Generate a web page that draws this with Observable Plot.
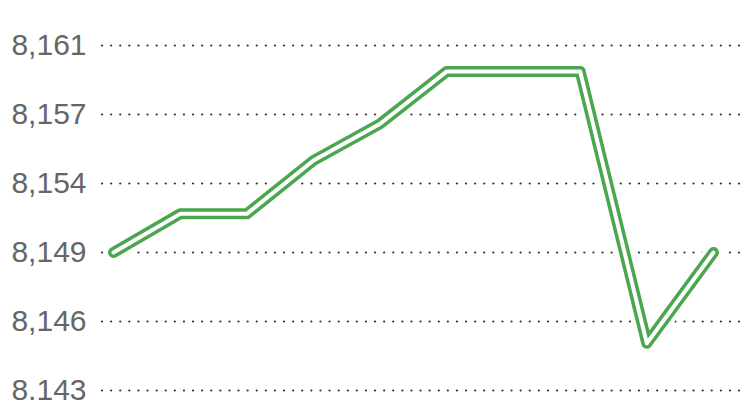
<!DOCTYPE html>
<html><head><meta charset="utf-8">
<script src="https://cdn.jsdelivr.net/npm/d3@7"></script>
<script src="https://cdn.jsdelivr.net/npm/@observablehq/plot@0.6"></script>
<style>body{margin:0;background:#fff}#chart svg{display:block}</style>
</head><body><div id="chart"></div>
<script>
const points = [0, 1, 2, 3, 4, 5, 6, 7, 8, 9];
const values = [8149, 8151.8, 8151.8, 8155, 8156.6, 8159.5, 8159.5, 8159.5, 8145.05, 8149];
const tickValues = [8143, 8146, 8149, 8154, 8157, 8161];
const tickLabels = ["8,143", "8,146", "8,149", "8,154", "8,157", "8,161"];

const data = points.map((p, i) => ({p, v: values[i]}));
const lineOpts = {x: "p", y: "v", strokeLinejoin: "round", strokeLinecap: "round"};

const chart = Plot.plot({
  width: 740, height: 400,
  marginTop: 45, marginBottom: 10, marginLeft: 102, marginRight: 0,
  style: {background: "#fff", fontFamily: "'Liberation Sans', Arial, sans-serif"},
  x: {domain: [0, 9], insetLeft: 11, insetRight: 27, axis: null},
  y: {type: "linear", domain: tickValues},
  marks: [
    Plot.ruleY(tickValues, {stroke: "#333", strokeWidth: 2.2, strokeDasharray: "0.1,9", strokeLinecap: "round"}),
    Plot.axisY({ticks: tickValues, tickFormat: d => tickLabels[tickValues.indexOf(d)], tickSize: 0, tickPadding: 16, fontSize: 30, fill: "#666", label: null}),
    Plot.line(data, {...lineOpts, stroke: "#fff", strokeWidth: 19}),
    Plot.line(data, {...lineOpts, stroke: "#4ba64f", strokeWidth: 11}),
    Plot.line(data, {...lineOpts, stroke: "#fff", strokeWidth: 4})
  ]
});
document.getElementById("chart").append(chart);
</script>
</body></html>
